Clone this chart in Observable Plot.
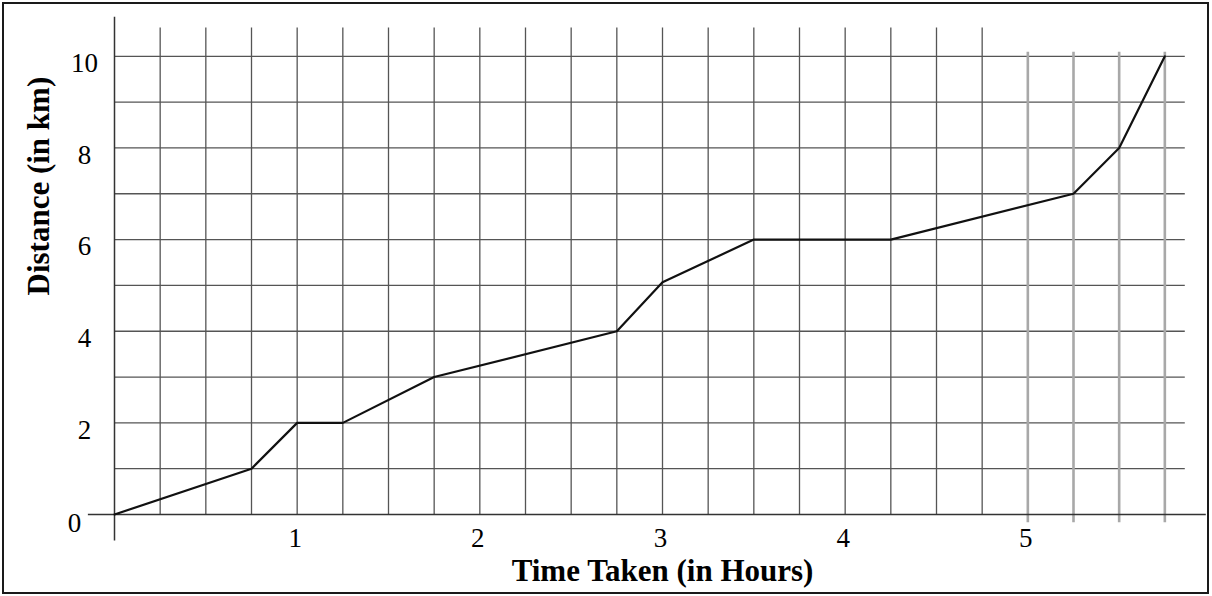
<!DOCTYPE html>
<html>
<head>
<meta charset="utf-8">
<script src="https://cdn.jsdelivr.net/npm/d3@7"></script>
<script src="https://cdn.jsdelivr.net/npm/@observablehq/plot@0.6"></script>
<style>
  html, body { margin: 0; padding: 0; background: #fff; }
  #chart { position: relative; width: 1212px; height: 596px; }
  #chart svg { position: absolute; left: 0; top: 0; }
  #chart .border {
    position: absolute; left: 2px; top: 2px; width: 1207px; height: 592px;
    border: 2.3px solid #1a1a1a; box-sizing: border-box; pointer-events: none;
  }
</style>
</head>
<body>
<div id="chart"><div class="border"></div></div>
<script>
// values
const hours    = [0, 0.75, 1, 1.25, 1.75, 2.75, 3, 3.5, 4.25, 5.25, 5.5, 5.75]
const distance = [0, 1,    2, 2,    3,    4,    5.07, 6, 6,   7,    8,   10]

const xTicks = [1, 2, 3, 4, 5]
const yTicks = [2, 4, 6, 8, 10]

// quarter hour grid lines; the last four are printed lighter
const gridDark  = [0.25, 0.5, 0.75, 1, 1.25, 1.5, 1.75, 2, 2.25, 2.5, 2.75, 3, 3.25, 3.5, 3.75, 4, 4.25, 4.5, 4.75]
const gridLight = [5, 5.25, 5.5, 5.75]
const gridH     = [1, 2, 3, 4, 5, 6, 7, 8, 9, 10]

const points = hours.map((h, i) => ({hours: h, km: distance[i]}))

function drawChart() {
  const plot = Plot.plot({
    width: 1212,
    height: 596,
    marginLeft: 114,
    marginRight: 2,
    marginTop: 10,
    marginBottom: 82,
    x: { domain: [0, 6] },
    y: { domain: [0, 11] },
    style: { fontFamily: "Liberation Serif", color: "#000", background: "transparent", overflow: "visible" },
    marks: [
      // grid
      Plot.ruleY(gridH, { y: d => d, x1: 0, x2: 5.862, stroke: "#555", strokeWidth: 1.3 }),
      Plot.ruleX(gridDark, { x: d => d, y1: 0, y2: 10.62, stroke: "#555", strokeWidth: 1.3 }),
      Plot.ruleX(gridLight, { x: d => d, y1: -0.18, y2: 10.09, stroke: "#a8a8a8", strokeWidth: 2.6 }),
      // axis lines
      Plot.ruleY([0], { x1: -0.143, x2: 5.977, stroke: "#333", strokeWidth: 1.5 }),
      Plot.ruleX([0], { y1: -0.58, y2: 10.85, stroke: "#333", strokeWidth: 1.5 }),
      // tick labels
      Plot.axisX({ ticks: xTicks, tickFormat: d => String(d), tickSize: 0, tickPadding: 13, dx: -2, fontSize: 27, label: null }),
      Plot.axisY({ ticks: yTicks, tickFormat: d => String(d), tickSize: 0, tickPadding: 30, textAnchor: "middle", dy: 7, fontSize: 27, label: null }),
      Plot.axisY({ ticks: [0], tickFormat: d => String(d), tickSize: 0, tickPadding: 40, textAnchor: "middle", dy: 9, fontSize: 27, label: null }),
      // axis titles
      Plot.text(["Time Taken (in Hours)"], {
        text: d => d, frameAnchor: "bottom", lineAnchor: "middle", dy: 57,
        fontSize: 31, fontWeight: "bold", fill: "#000"
      }),
      Plot.text(["Distance (in km)"], {
        text: d => d, frameAnchor: "left", lineAnchor: "middle", rotate: -90, dx: -75.5, dy: 33,
        fontSize: 31, fontWeight: "bold", fill: "#000"
      }),
      // the journey
      Plot.line(points, { x: "hours", y: "km", stroke: "#111", strokeWidth: 2.2 })
    ]
  })
  const div = document.querySelector("#chart")
  div.append(plot)
}
drawChart()
</script>
</body>
</html>
